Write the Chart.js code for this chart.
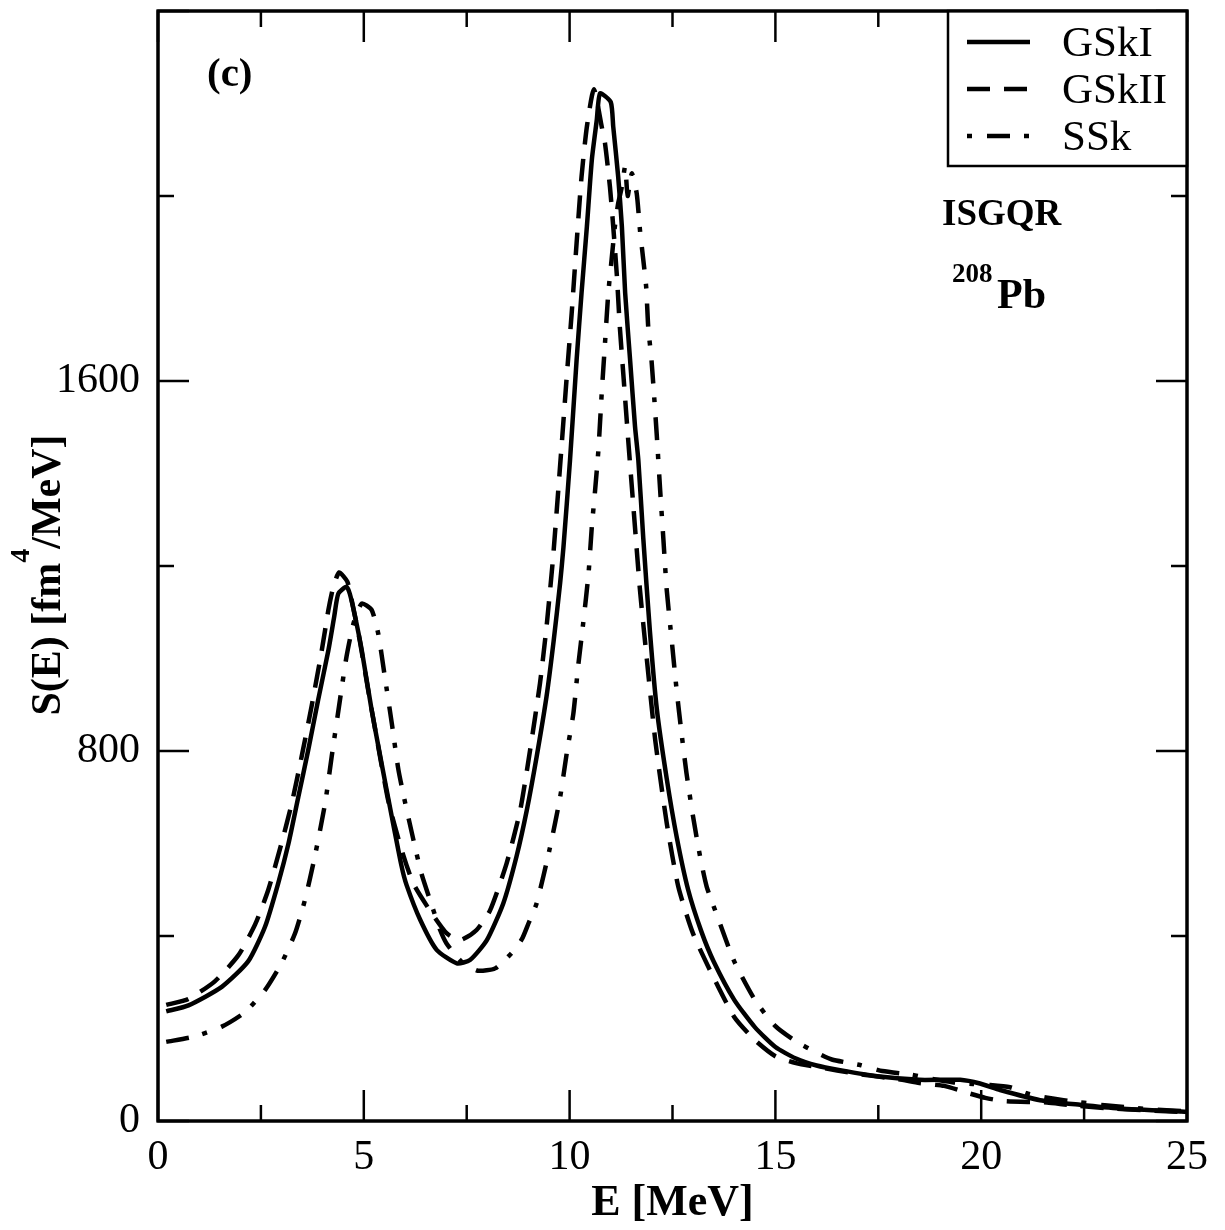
<!DOCTYPE html>
<html>
<head>
<meta charset="utf-8">
<script src="https://cdn.jsdelivr.net/npm/chart.js@4.4.1/dist/chart.umd.min.js"></script>
<style>
  html,body{margin:0;padding:0;background:#fff;}
  #c{display:block;}
</style>
</head>
<body>
<canvas id="c" width="1225" height="1230"></canvas>
<script>
/* ISGQR strength function S(E) for 208Pb, panel (c) */
const seriesLabels=['GSkI','GSkII','SSk'];

// GSkI (solid)
const gsk1E=[0.2,0.74,1.55,2.19,2.6,2.92,3.17,3.41,3.65,3.89,4.14,4.28,4.38,4.58,4.66,4.79,4.95,5.19,5.43,5.68,5.92,6.04,6.37,6.77,7.26,7.58,7.99,8.39,8.71,8.96,9.2,9.44,9.61,9.77,9.85,10.01,10.17,10.29,10.42,10.54,10.66,10.74,11.0,11.06,11.18,11.27,11.35,11.47,11.59,11.67,11.79,11.95,12.12,12.36,12.6,12.88,13.2,13.5,14.0,14.5,15.0,15.5,16.0,16.57,17.54,18.5,19.49,19.97,20.46,21.43,22.4,23.37,25];
const gsk1S=[237,250,290,345,420,514,600,701,802,910,1018,1090,1140,1155,1140,1090,1018,889,774,658,550,510,435,370,341,348,391,471,572,672,788,918,1036,1163,1240,1429,1645,1790,1934,2078,2164,2222,2203,2150,2042,1934,1790,1645,1501,1429,1260,1060,890,740,615,500,410,345,262,203,160,135,120,110,96,89,89,81,67,45,35,27,20];

// GSkII (dashed)
const gsk2E=[0.2,0.74,1.38,1.95,2.36,2.68,3.0,3.25,3.49,3.73,3.98,4.14,4.26,4.40,4.60,4.72,4.9,5.1,5.35,5.6,5.92,6.2,6.6,7.01,7.34,7.74,8.07,8.47,8.8,9.04,9.28,9.44,9.6,9.81,9.93,10.05,10.17,10.29,10.42,10.59,10.78,10.86,10.98,11.06,11.15,11.22,11.31,11.43,11.55,11.71,11.87,12.08,12.36,12.64,13.0,13.5,14.0,14.5,15.0,15.5,16.0,17.0,18.0,18.5,19.1,19.7,20.1,20.55,21.6,22.1,23.0,24.0,25];
const gsk2S=[251,264,302,358,425,500,600,687,788,896,1018,1105,1155,1186,1166,1120,1040,935,810,690,586,514,456,406,391,413,456,557,672,802,946,1069,1220,1465,1609,1746,1898,2042,2150,2231,2150,2114,2020,1934,1826,1717,1609,1465,1328,1148,1004,824,644,507,405,310,225,175,140,125,117,102,90,82,76,60,50,43,40,35,28,23,19];

// SSk (dash-dot)
const sskE=[0.2,0.9,1.55,2.11,2.6,3.0,3.33,3.57,3.81,4.06,4.22,4.42,4.58,4.75,4.95,5.19,5.35,5.51,5.68,5.84,6.0,6.2,6.4,6.69,6.85,7.01,7.38,7.77,8.19,8.59,8.84,9.0,9.2,9.52,9.77,9.93,10.09,10.21,10.33,10.46,10.54,10.62,10.7,10.78,10.86,10.94,11.02,11.1,11.18,11.27,11.35,11.41,11.51,11.63,11.71,11.79,11.86,11.91,11.99,12.06,12.12,12.2,12.28,12.36,12.48,12.6,12.72,12.84,13.0,13.17,13.33,13.6,14.0,14.5,15.0,15.5,16.0,16.37,17.06,17.6,18.3,18.8,19.3,19.8,20.2,20.7,21.1,21.5,22.0,23.0,24.0,25];
const sskS=[171,183,204,235,283,341,406,478,572,687,788,910,1004,1076,1119,1105,1054,961,860,760,690,610,535,456,414,384,344,325,330,363,393,427,471,590,700,795,880,985,1076,1184,1285,1364,1451,1573,1682,1790,1862,1934,1984,2020,2064,2000,2049,2006,1926,1862,1804,1717,1645,1559,1480,1364,1256,1148,1040,932,838,752,658,572,507,440,345,262,205,172,148,133,121,108,100,91,84,80,78,73,60,52,45,34,26,21];

// axis ticks
const xMajorTicks=[0,5,10,15,20,25];
const xMinorTicks=[2.5,7.5,12.5,17.5,22.5];
const yMajorTicks=[0,800,1600,2400];
const yMinorTicks=[400,1200,2000];
const yTickLabels=['0','800','1600',''];

const SERIF='"Liberation Serif","Times New Roman",Times,serif';

function pts(xs,ys){ return xs.map((x,i)=>({x,y:ys[i]})); }

const framePlugin={
  id:'frame',
  afterDraw(chart){
    const c=chart.ctx, a=chart.chartArea, sx=chart.scales.x, sy=chart.scales.y;
    c.save();
    c.strokeStyle='#000'; c.lineWidth=3; c.setLineDash([]);
    c.strokeRect(a.left,a.top,a.right-a.left,a.bottom-a.top);
    c.lineWidth=2.5;
    const tick=(x1,y1,x2,y2)=>{ c.beginPath(); c.moveTo(x1,y1); c.lineTo(x2,y2); c.stroke(); };
    const xt=(v,len)=>{ const p=sx.getPixelForValue(v); tick(p,a.bottom,p,a.bottom-len); tick(p,a.top,p,a.top+len); };
    const yt=(v,len)=>{ const p=sy.getPixelForValue(v); tick(a.left,p,a.left+len,p); tick(a.right,p,a.right-len,p); };
    xMajorTicks.forEach(v=>xt(v,31)); xMinorTicks.forEach(v=>xt(v,16));
    yMajorTicks.forEach(v=>yt(v,31)); yMinorTicks.forEach(v=>yt(v,16));

    // legend box
    const lx=948, ly=a.top, lw=a.right-948, lh=155;
    c.fillStyle='#fff'; c.fillRect(lx,ly,lw,lh);
    c.lineWidth=2.5; c.strokeRect(lx,ly,lw,lh);
    c.lineWidth=3; c.strokeRect(a.left,a.top,a.right-a.left,a.bottom-a.top);
    const rows=[42,89,136];
    chart.data.datasets.forEach((ds,i)=>{
      c.save();
      c.lineWidth=4.5; c.strokeStyle='#000';
      c.setLineDash(ds.borderDash||[]);
      c.lineDashOffset=i===2?37:0;
      c.beginPath(); c.moveTo(967,rows[i]); c.lineTo(1030,rows[i]); c.stroke();
      c.restore();
      c.fillStyle='#000'; c.font='43px '+SERIF; c.textBaseline='middle'; c.textAlign='left';
      c.fillText(ds.label,1062,rows[i]+3);
    });

    // annotations
    c.fillStyle='#000'; c.textBaseline='alphabetic'; c.textAlign='left';
    c.font='bold 41px '+SERIF; c.fillText('(c)',207,86);
    c.font='bold 37px '+SERIF; c.fillText('ISGQR',942,225);
    c.font='bold 27px '+SERIF; c.fillText('208',952,282);
    c.font='bold 42px '+SERIF; c.fillText('Pb',997,308);

    // y axis title with superscript
    const p1='S(E) [fm', p2='4', p3='/MeV]';
    c.font='bold 42px '+SERIF; const w1=c.measureText(p1).width, w3=c.measureText(p3).width;
    c.font='bold 28px '+SERIF; const w2=c.measureText(p2).width;
    const tot=w1+w2+w3, cy=575;
    c.translate(60,cy); c.rotate(-Math.PI/2);
    let x0=-tot/2;
    c.font='bold 42px '+SERIF; c.fillText(p1,x0,0);
    c.font='bold 28px '+SERIF; c.fillText(p2,x0+w1,-31);
    c.font='bold 42px '+SERIF; c.fillText(p3,x0+w1+w2,0);
    c.restore();
  }
};

new Chart(document.getElementById('c'),{
  type:'scatter',
  data:{datasets:[
    {label:seriesLabels[0],data:pts(gsk1E,gsk1S),borderDash:[]},
    {label:seriesLabels[1],data:pts(gsk2E,gsk2S),borderDash:[23,14]},
    {label:seriesLabels[2],data:pts(sskE,sskS),borderDash:[23,14,5,15]}
  ].map(d=>Object.assign(d,{showLine:true,borderColor:'#000',backgroundColor:'#000',borderWidth:4.5,pointRadius:0,tension:0.2,fill:false}))},
  options:{
    responsive:false,animation:false,
    layout:{padding:{top:11,right:38,left:0,bottom:0}},
    plugins:{legend:{display:false},tooltip:{enabled:false}},
    scales:{
      x:{type:'linear',min:0,max:25,
        grid:{display:false,drawTicks:false},border:{display:false},
        afterBuildTicks(s){ s.ticks=xMajorTicks.map(v=>({value:v})); },
        ticks:{color:'#000',font:{family:SERIF,size:42},padding:12,maxRotation:0,callback:v=>String(v)},
        title:{display:true,text:'E [MeV]',color:'#000',font:{family:SERIF,size:44,weight:'bold'},padding:{top:0,bottom:0}},
        afterFit(s){ s.height=109; s.paddingLeft=0; s.paddingRight=0; }},
      y:{type:'linear',min:0,max:2400,
        grid:{display:false,drawTicks:false},border:{display:false},
        afterBuildTicks(s){ s.ticks=yMajorTicks.map(v=>({value:v})); },
        ticks:{color:'#000',font:{family:SERIF,size:42},padding:18,callback:(v)=>yTickLabels[yMajorTicks.indexOf(v)]},
        afterFit(s){ s.width=158; s.paddingTop=0; s.paddingBottom=0; }}
    }
  },
  plugins:[framePlugin]
});
</script>
</body>
</html>
